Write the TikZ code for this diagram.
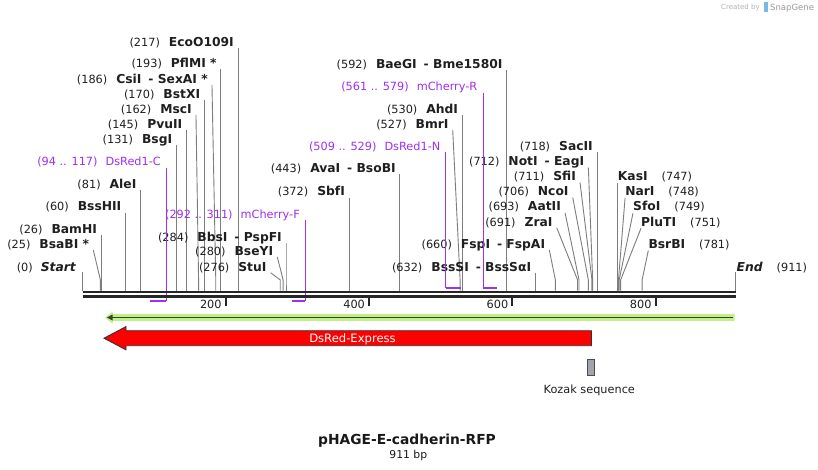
\documentclass[tikz,border=0pt]{standalone}
\usepackage{fontspec}
\setmainfont{DejaVu Sans}
\usetikzlibrary{calc}
\definecolor{cutgray}{RGB}{125,125,125}
\definecolor{barc}{RGB}{38,38,38}
\definecolor{prim}{RGB}{158,48,240}
\definecolor{lgreen}{RGB}{192,240,135}
\definecolor{dgreen}{RGB}{55,65,45}
\definecolor{kozakc}{RGB}{160,164,172}
\definecolor{logoblue}{RGB}{120,185,235}
\newcommand{\nm}[1]{{\bfseries\fontsize{12.3}{14}\selectfont #1}}
\newcommand{\cutL}[5]{%
  \node[lab,anchor=base east] (#1) at ({82.5+0.7165*#2+(#3)-4},{#4+4.3}) {#5};
  \coordinate (#1k) at ({82.5+0.7165*#2},280);
  \coordinate (#1s) at ({82.5+0.7165*#2},290.5);
  \draw[cutline] ([shift={(4,1.7)}]#1.base east) -- (#1k) -- (#1s);
}
\newcommand{\cutR}[5]{%
  \node[lab,anchor=base west] (#1) at ({82.5+0.7165*#2+(#3)},{#4+4.3}) {#5};
  \coordinate (#1k) at ({82.5+0.7165*#2},280);
  \coordinate (#1s) at ({82.5+0.7165*#2},290.5);
  \draw[cutline] ([shift={(0,2.2)}]#1.base west) -- (#1k) -- (#1s);
}
\begin{document}
\begin{tikzpicture}[x=1pt,y=-1pt,
  lab/.style={inner sep=0pt, font=\fontsize{11.3}{13}\selectfont, text=black!88},
  plab/.style={inner sep=0pt, font=\fontsize{11.3}{13}\selectfont, text=prim},
  cutline/.style={draw=cutgray, line width=0.9pt},
  pv/.style={draw=prim, line width=1.3pt},
  ph/.style={draw=prim, line width=2.2pt},
  strand/.style={draw=barc, line width=2.7pt}]
\useasboundingbox[fill=white] (0,0) rectangle (818,470);

% watermark
\node[anchor=base west, inner sep=0pt, text=black!30, font=\fontsize{7}{8}\selectfont] (wm1) at (721,10) {Created by};
\fill[logoblue] (763.5,2.5) rectangle (767.5,12.5);
\node[anchor=base west, inner sep=0pt, text=black!40, font=\fontsize{8.5}{9}\selectfont] (wm2) at (770,10.5) {SnapGene};

% start / end
\node[lab,anchor=base east] (startl) at (76,271) {(0)\hspace{8pt}{\bfseries\itshape\fontsize{12.3}{14}\selectfont Start}};
\coordinate (starts) at (82.5,290.5);
\draw[cutline] ([shift={(6.5,0.7)}]startl.base east) -- (starts);
\node[lab,anchor=base west] (endl) at (736.5,271.6) {{\bfseries\itshape\fontsize{12.3}{14}\selectfont End}\hspace{14pt}(911)};
\coordinate (ends) at (735.2,290.5);
\draw[cutline] ([shift={(-1.3,0.1)}]endl.base west) -- (ends);

% enzymes, left-aligned labels
\cutL{bsabi}{25}{-7.1}{244}{(25)\hspace{9pt}\nm{BsaBI *}}
\cutL{bamhi}{26}{0}{229}{(26)\hspace{9pt}\nm{BamHI}}
\cutL{bsshii}{60}{0}{206.7}{(60)\hspace{9pt}\nm{BssHII}}
\cutL{alei}{81}{0}{184}{(81)\hspace{9pt}\nm{AleI}}
\cutL{bsgi}{131}{0}{139}{(131)\hspace{9pt}\nm{BsgI}}
\cutL{pvuii}{145}{0}{124}{(145)\hspace{9pt}\nm{PvuII}}
\cutL{msci}{162}{-2.6}{109}{(162)\hspace{9pt}\nm{MscI}}
\cutL{bstxi}{170}{0}{94}{(170)\hspace{9pt}\nm{BstXI}}
\cutL{csii}{186}{-3.8}{79}{(186)\hspace{9pt}\nm{CsiI\hspace{7pt}- SexAI *}}
\cutL{pflmi}{193}{0}{63.3}{(193)\hspace{9pt}\nm{PflMI *}}
\cutL{ecoo}{217}{0}{42.3}{(217)\hspace{9pt}\nm{EcoO109I}}
\cutL{bbsi}{284}{0}{237.3}{(284)\hspace{9pt}\nm{BbsI\hspace{7pt}- PspFI}}
\cutL{bseyi}{280}{-5.8}{251}{(280)\hspace{9pt}\nm{BseYI}}
\cutL{stui}{276}{-9.6}{266.7}{(276)\hspace{9pt}\nm{StuI}}
\cutL{sbfi}{372}{0}{191.7}{(372)\hspace{9pt}\nm{SbfI}}
\cutL{avai}{443}{0}{168.3}{(443)\hspace{9pt}\nm{AvaI\hspace{7pt}- BsoBI}}
\cutL{baegi}{592}{0}{64}{(592)\hspace{9pt}\nm{BaeGI\hspace{7pt}- Bme1580I}}
\cutL{ahdi}{530}{0}{109.3}{(530)\hspace{9pt}\nm{AhdI}}
\cutL{bmri}{527}{-7.4}{124}{(527)\hspace{9pt}\nm{BmrI}}
\cutL{fspi}{660}{-6.1}{244}{(660)\hspace{9pt}\nm{FspI\hspace{7pt}- FspAI}}
\cutL{bsssi}{632}{0}{266.7}{(632)\hspace{9pt}\nm{BssSI\hspace{7pt}- BssSαI}}
\cutL{sacii}{718}{0}{146}{(718)\hspace{9pt}\nm{SacII}}
\cutL{noti}{712}{-4.3}{161.7}{(712)\hspace{9pt}\nm{NotI\hspace{7pt}- EagI}}
\cutL{sfii}{711}{-11.9}{176.7}{(711)\hspace{9pt}\nm{SfiI}}
\cutL{ncoi}{706}{-15.6}{191.7}{(706)\hspace{9pt}\nm{NcoI}}
\cutL{aatii}{693}{-14}{206.7}{(693)\hspace{9pt}\nm{AatII}}
\cutL{zrai}{691}{-20.9}{221.7}{(691)\hspace{9pt}\nm{ZraI}}
% enzymes, right-side labels
\cutR{kasi}{747}{0}{176.7}{\nm{KasI}\hspace{14pt}(747)}
\cutR{nari}{748}{6.6}{191.7}{\nm{NarI}\hspace{14pt}(748)}
\cutR{sfoi}{749}{13.8}{206.7}{\nm{SfoI}\hspace{14pt}(749)}
\cutR{pluti}{751}{20.4}{221.7}{\nm{PluTI}\hspace{14pt}(751)}
\cutR{bsrbi}{781}{6.2}{244}{\nm{BsrBI}\hspace{14pt}(781)}

% primers
\node[plab,anchor=base east] (p1) at (161,166) {(94 .. 117)\hspace{8pt}DsRed1-C};
\coordinate (p1a) at (166.3,300.7); \coordinate (p1b) at (149.9,300.7);
\draw[pv] ([shift={(5.3,2)}]p1.base east) -- (p1a);
\draw[ph] (p1b) -- (p1a);

\node[plab,anchor=base east] (p2) at (300,218.6) {(292 .. 311)\hspace{8pt}mCherry-F};
\coordinate (p2a) at (305.3,300.7); \coordinate (p2b) at (291.7,300.7);
\draw[pv] ([shift={(5.3,1.4)}]p2.base east) -- (p2a);
\draw[ph] (p2b) -- (p2a);

\node[plab,anchor=base east] (p3) at (440.5,151) {(509 .. 529)\hspace{8pt}DsRed1-N};
\coordinate (p3a) at (445.7,287.6); \coordinate (p3b) at (461,287.6);
\draw[pv] ([shift={(5.2,1.3)}]p3.base east) -- (p3a);
\draw[ph] (p3a) -- (p3b);

\node[plab,anchor=base east] (p4) at (477.5,91) {(561 .. 579)\hspace{8pt}mCherry-R};
\coordinate (p4a) at (483.3,287.6); \coordinate (p4b) at (496.5,287.6);
\draw[pv] ([shift={(5.8,1.7)}]p4.base east) -- (p4a);
\draw[ph] (p4a) -- (p4b);

% sequence strands
\coordinate (b0) at (82.5,292); \coordinate (b1) at (735.7,292);
\coordinate (c0) at (82.5,296.4); \coordinate (c1) at (735.7,296.4);
\draw[strand] (b0) -- (b1);
\draw[strand] (c0) -- (c1);

% ruler ticks
\foreach \v in {200,400,600,800}{
  \coordinate (t\v) at ({82.5+0.7165*\v},296);
  \coordinate (u\v) at ({82.5+0.7165*\v},305.5);
  \draw[draw=barc, line width=2pt] (t\v) -- (u\v);
  \node[lab,anchor=base east] (tl\v) at ({82.5+0.7165*\v-4},308.3) {\v};
}

% green full-length arrow
\fill[lgreen] (105,317.5) -- (112.5,311.5) -- (112.5,314.2) -- (734.5,314.2) -- (734.5,320.8)
   -- (112.5,320.8) -- (112.5,323.5) -- cycle;
\draw[draw=dgreen, line width=1.8pt] (733,317.5) -- (111,317.5);
\fill[dgreen] (107,317.5) -- (112.5,314.5) -- (112.5,320.5) -- cycle;

% DsRed-Express arrow
\draw[fill=red, draw=black!80, line width=0.9pt] (104,338.2) -- (126,326.6) -- (126,330.7)
   -- (591.5,330.7) -- (591.5,345.7) -- (126,345.7) -- (126,349.8) -- cycle;
\node[inner sep=0pt, anchor=base, text=white, font=\fontsize{11.6}{13}\selectfont] (dsred) at (352.5,342.4) {DsRed-Express};

% Kozak
\draw[fill=kozakc, draw=black!70, line width=0.8pt] (587.3,359.3) rectangle (594.3,375);
\node[lab, anchor=base] (kozak) at (589.3,393.2) {Kozak sequence};

% title
\node[inner sep=0pt, anchor=base, text=black!90, font=\bfseries\fontsize{13.8}{16}\selectfont] (title) at (407,444.4) {pHAGE-E-cadherin-RFP};
\node[inner sep=0pt, anchor=base, text=black!90, font=\fontsize{10.8}{12}\selectfont] (len) at (408.3,458) {911 bp};
\end{tikzpicture}
\end{document}
